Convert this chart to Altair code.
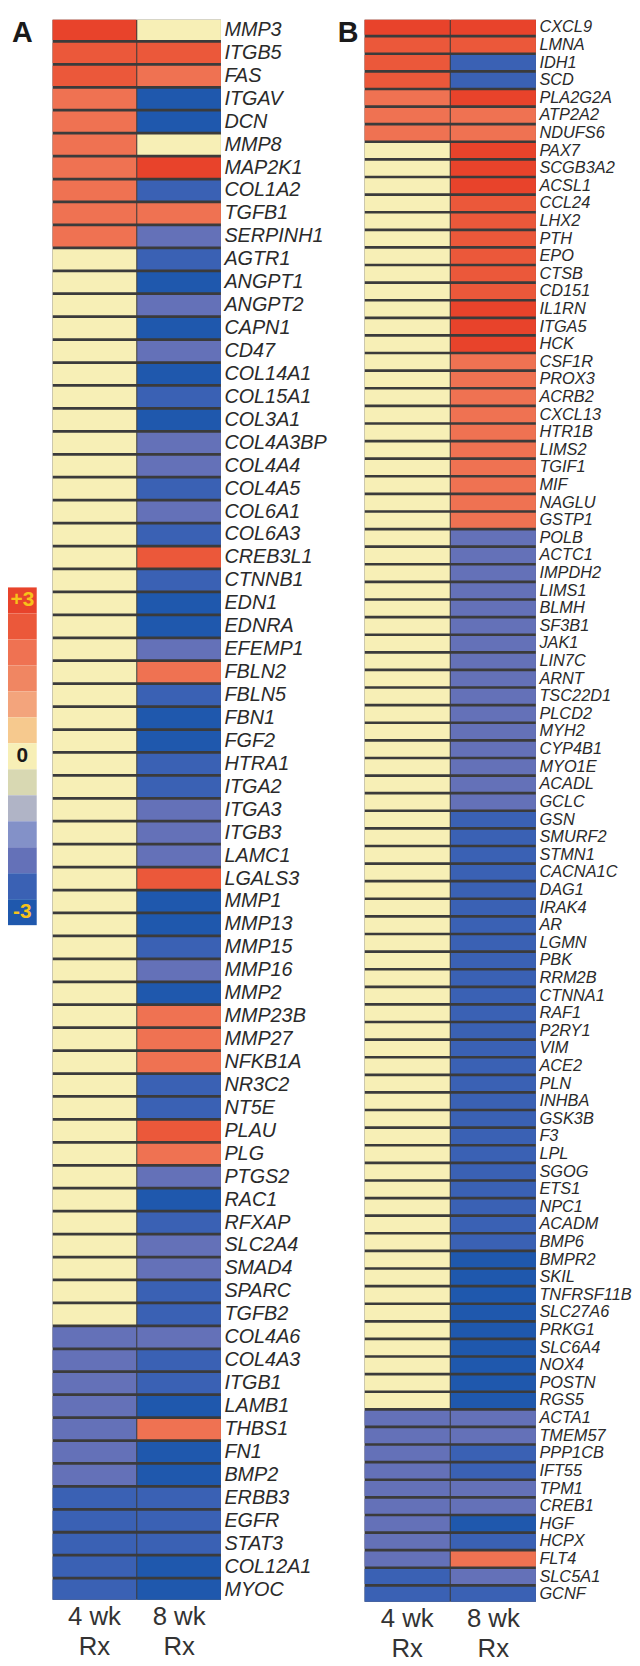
import altair as alt
import pandas as pd

# ---------------- data ----------------
timepoints = ["4 wk", "8 wk"]

genes_a = ["MMP3", "ITGB5", "FAS", "ITGAV", "DCN", "MMP8", "MAP2K1", "COL1A2", "TGFB1", "SERPINH1",
           "AGTR1", "ANGPT1", "ANGPT2", "CAPN1", "CD47", "COL14A1", "COL15A1", "COL3A1", "COL4A3BP",
           "COL4A4", "COL4A5", "COL6A1", "COL6A3", "CREB3L1", "CTNNB1", "EDN1", "EDNRA", "EFEMP1",
           "FBLN2", "FBLN5", "FBN1", "FGF2", "HTRA1", "ITGA2", "ITGA3", "ITGB3", "LAMC1", "LGALS3",
           "MMP1", "MMP13", "MMP15", "MMP16", "MMP2", "MMP23B", "MMP27", "NFKB1A", "NR3C2", "NT5E",
           "PLAU", "PLG", "PTGS2", "RAC1", "RFXAP", "SLC2A4", "SMAD4", "SPARC", "TGFB2",
           "COL4A6", "COL4A3", "ITGB1", "LAMB1", "THBS1", "FN1", "BMP2", "ERBB3", "EGFR", "STAT3",
           "COL12A1", "MYOC"]
wk4_a = [3, 2.5, 2.5, 2, 2, 2, 2, 2, 2, 2,
         0, 0, 0, 0, 0, 0, 0, 0, 0, 0, 0, 0, 0, 0, 0, 0, 0, 0, 0, 0, 0, 0, 0, 0, 0, 0, 0,
         0, 0, 0, 0, 0, 0, 0, 0, 0, 0, 0, 0, 0, 0, 0, 0, 0, 0, 0, 0,
         -2, -2, -2, -2, -2, -2, -2, -2.5, -2.5, -2.5, -2.5, -2.5]
wk8_a = [0, 2.5, 2, -3, -3, 0, 3, -2.5, 2, -2,
         -2.5, -3, -2, -3, -2, -3, -2.5, -3, -2, -2, -2.5, -2, -2.5, 2.5, -2.5, -3, -3, -2,
         2, -2.5, -3, -3, -2.5, -2.5, -2, -2, -2, 2.5,
         -3, -3, -2.5, -2, -3, 2, 2, 2, -2.5, -2.5,
         2.5, 2, -2, -3, -2.5, -2, -2, -2.5, -2.5,
         -2, -2.5, -2.5, -3, 2, -3, -3, -2.5, -2.5, -2.5, -3, -3]

genes_b = ["CXCL9", "LMNA", "IDH1", "SCD", "PLA2G2A", "ATP2A2", "NDUFS6",
           "PAX7", "SCGB3A2", "ACSL1", "CCL24", "LHX2", "PTH", "EPO", "CTSB", "CD151", "IL1RN",
           "ITGA5", "HCK", "CSF1R", "PROX3", "ACRB2", "CXCL13", "HTR1B", "LIMS2", "TGIF1", "MIF",
           "NAGLU", "GSTP1",
           "POLB", "ACTC1", "IMPDH2", "LIMS1", "BLMH", "SF3B1", "JAK1", "LIN7C", "ARNT", "TSC22D1",
           "PLCD2", "MYH2", "CYP4B1", "MYO1E", "ACADL", "GCLC", "GSN", "SMURF2", "STMN1",
           "CACNA1C", "DAG1", "IRAK4", "AR", "LGMN", "PBK", "RRM2B", "CTNNA1", "RAF1", "P2RY1",
           "VIM", "ACE2", "PLN", "INHBA", "GSK3B", "F3", "LPL", "SGOG", "ETS1", "NPC1", "ACADM",
           "BMP6", "BMPR2", "SKIL", "TNFRSF11B", "SLC27A6", "PRKG1", "SLC6A4", "NOX4", "POSTN",
           "RGS5",
           "ACTA1", "TMEM57", "PPP1CB", "IFT55", "TPM1", "CREB1", "HGF", "HCPX", "FLT4",
           "SLC5A1", "GCNF"]
wk4_b = [3, 2.5, 2.5, 2.5, 2, 2, 2,
         0, 0, 0, 0, 0, 0, 0, 0, 0, 0, 0, 0, 0, 0, 0, 0, 0, 0, 0, 0, 0, 0,
         0, 0, 0, 0, 0, 0, 0, 0, 0, 0, 0, 0, 0, 0, 0, 0, 0, 0, 0,
         0, 0, 0, 0, 0, 0, 0, 0, 0, 0, 0, 0, 0, 0, 0, 0, 0, 0, 0, 0, 0,
         0, 0, 0, 0, 0, 0, 0, 0, 0, 0,
         -2, -2, -2, -2, -2, -2, -2, -2, -2, -2.5, -2.5]
wk8_b = [3, 2.5, -2.5, -2.5, 3, 2, 2,
         3, 3, 3, 2.5, 2.5, 2.5, 2.5, 2.5, 2.5, 3, 3, 3, 2, 2, 2, 2, 2, 2, 2, 2, 2, 2,
         -2, -2, -2, -2, -2, -2, -2, -2, -2, -2, -2, -2, -2, -2, -2, -2, -2.5, -2.5, -2.5,
         -2.5, -2.5, -2.5, -2.5, -2.5, -2.5, -2.5, -2.5, -2.5, -2.5, -2.5, -2.5,
         -2.5, -2.5, -2.5, -2.5, -2.5, -2.5, -2.5, -2.5, -2.5, -2.5,
         -3, -3, -3, -3, -3, -3, -3, -3, -3,
         -2, -2, -2.5, -2.5, -2, -2, -3, -2.5, 2, -2, -2.5]

levels = [3, 2.5, 2, 1.5, 1, 0.5, 0, -0.5, -1, -1.5, -2, -2.5, -3]
level_colors = ["#e8432b", "#eb583a", "#ef7252", "#f08662", "#f3a47c", "#f6c98e", "#f7efb6",
                "#d8d8b2", "#b0b4c6", "#8391c8", "#6471b8", "#3a61b4", "#1f58ad"]
legend_labels = ["+3", "0", "-3"]
legend_label_levels = [3, 0, -3]

FONT = "Liberation Sans"
color_scale = alt.Scale(domain=levels, range=level_colors)


def to_long(genes, v4, v8):
    rows = []
    for g, a, b in zip(genes, v4, v8):
        rows.append({"gene": g, "time": timepoints[0], "v": a})
        rows.append({"gene": g, "time": timepoints[1], "v": b})
    return pd.DataFrame(rows)


def panel(genes, v4, v8, letter, width, height, label_size, pad_inner, dx):
    df = to_long(genes, v4, v8)
    bg = alt.Chart(pd.DataFrame({"k": [0]})).mark_rect().encode(color=alt.value("#3b3b3b"))
    cells = alt.Chart(df).mark_rect().encode(
        x=alt.X("time:N", sort=timepoints,
                scale=alt.Scale(paddingInner=0.012, paddingOuter=0),
                axis=alt.Axis(orient="bottom", title=None, domain=False, ticks=False,
                              labelAngle=0, labelFontSize=26, labelFont=FONT,
                              labelColor="#333333", labelPadding=4, labelBaseline="top",
                              labelLineHeight=30, labelExpr="[datum.label, 'Rx']")),
        y=alt.Y("gene:N", sort=genes,
                scale=alt.Scale(paddingInner=pad_inner, paddingOuter=0),
                axis=alt.Axis(orient="right", title=None, domain=False, ticks=False,
                              labelFontSize=label_size, labelFont=FONT, labelFontStyle="italic",
                              labelColor="#2a2a2a", labelPadding=3, labelLimit=300)),
        color=alt.Color("v:O", scale=color_scale, legend=None),
    )
    tag = alt.Chart(pd.DataFrame({"t": [letter]})).mark_text(
        align="left", baseline="top", dx=dx, dy=-1, fontSize=29, fontWeight="bold",
        font=FONT, color="#1a1a1a").encode(text="t:N", x=alt.value(0), y=alt.value(0))
    return alt.layer(bg, cells, tag).properties(width=width, height=height)


panel_a = panel(genes_a, wk4_a, wk8_a, "A", 170, 1595, 20, 0.12, -41)
panel_b = panel(genes_b, wk4_b, wk8_b, "B", 173, 1597, 16.5, 0.15, -27)

# ---------------- colour key ----------------
ly = alt.Y("v:O", sort="descending",
           scale=alt.Scale(range=[573, 914], paddingInner=0, paddingOuter=0), axis=None)
key_bars = alt.Chart(pd.DataFrame({"v": levels})).mark_rect().encode(
    y=ly, color=alt.Color("v:O", scale=color_scale, legend=None))
lab_df = pd.DataFrame({"v": legend_label_levels, "label": legend_labels})
key_pm = alt.Chart(lab_df).transform_filter("datum.v != 0").mark_text(
    color="#f7c21a", fontWeight="bold", fontSize=21, font=FONT).encode(y=ly, text="label:N")
key_zero = alt.Chart(lab_df).transform_filter("datum.v == 0").mark_text(
    color="#1a1a1a", fontWeight="bold", fontSize=21, font=FONT).encode(y=ly, text="label:N")
key = alt.layer(key_bars, key_pm, key_zero).properties(width=29, height=914)

spacer = alt.Chart(pd.DataFrame({"k": [0]})).mark_point(opacity=0).encode(
    x=alt.X("k:Q", axis=None), y=alt.Y("k:Q", axis=None)).properties(width=113, height=1)

chart = alt.hconcat(key, panel_a, spacer, panel_b, spacing=16, bounds="flush").resolve_scale(
    x="independent", y="independent"
).properties(
    padding={"left": 0, "top": 1, "right": 0, "bottom": 0}
).configure(font=FONT).configure_view(stroke=None)

chart.save("out.html", embed_options={"renderer": "svg", "actions": False})
